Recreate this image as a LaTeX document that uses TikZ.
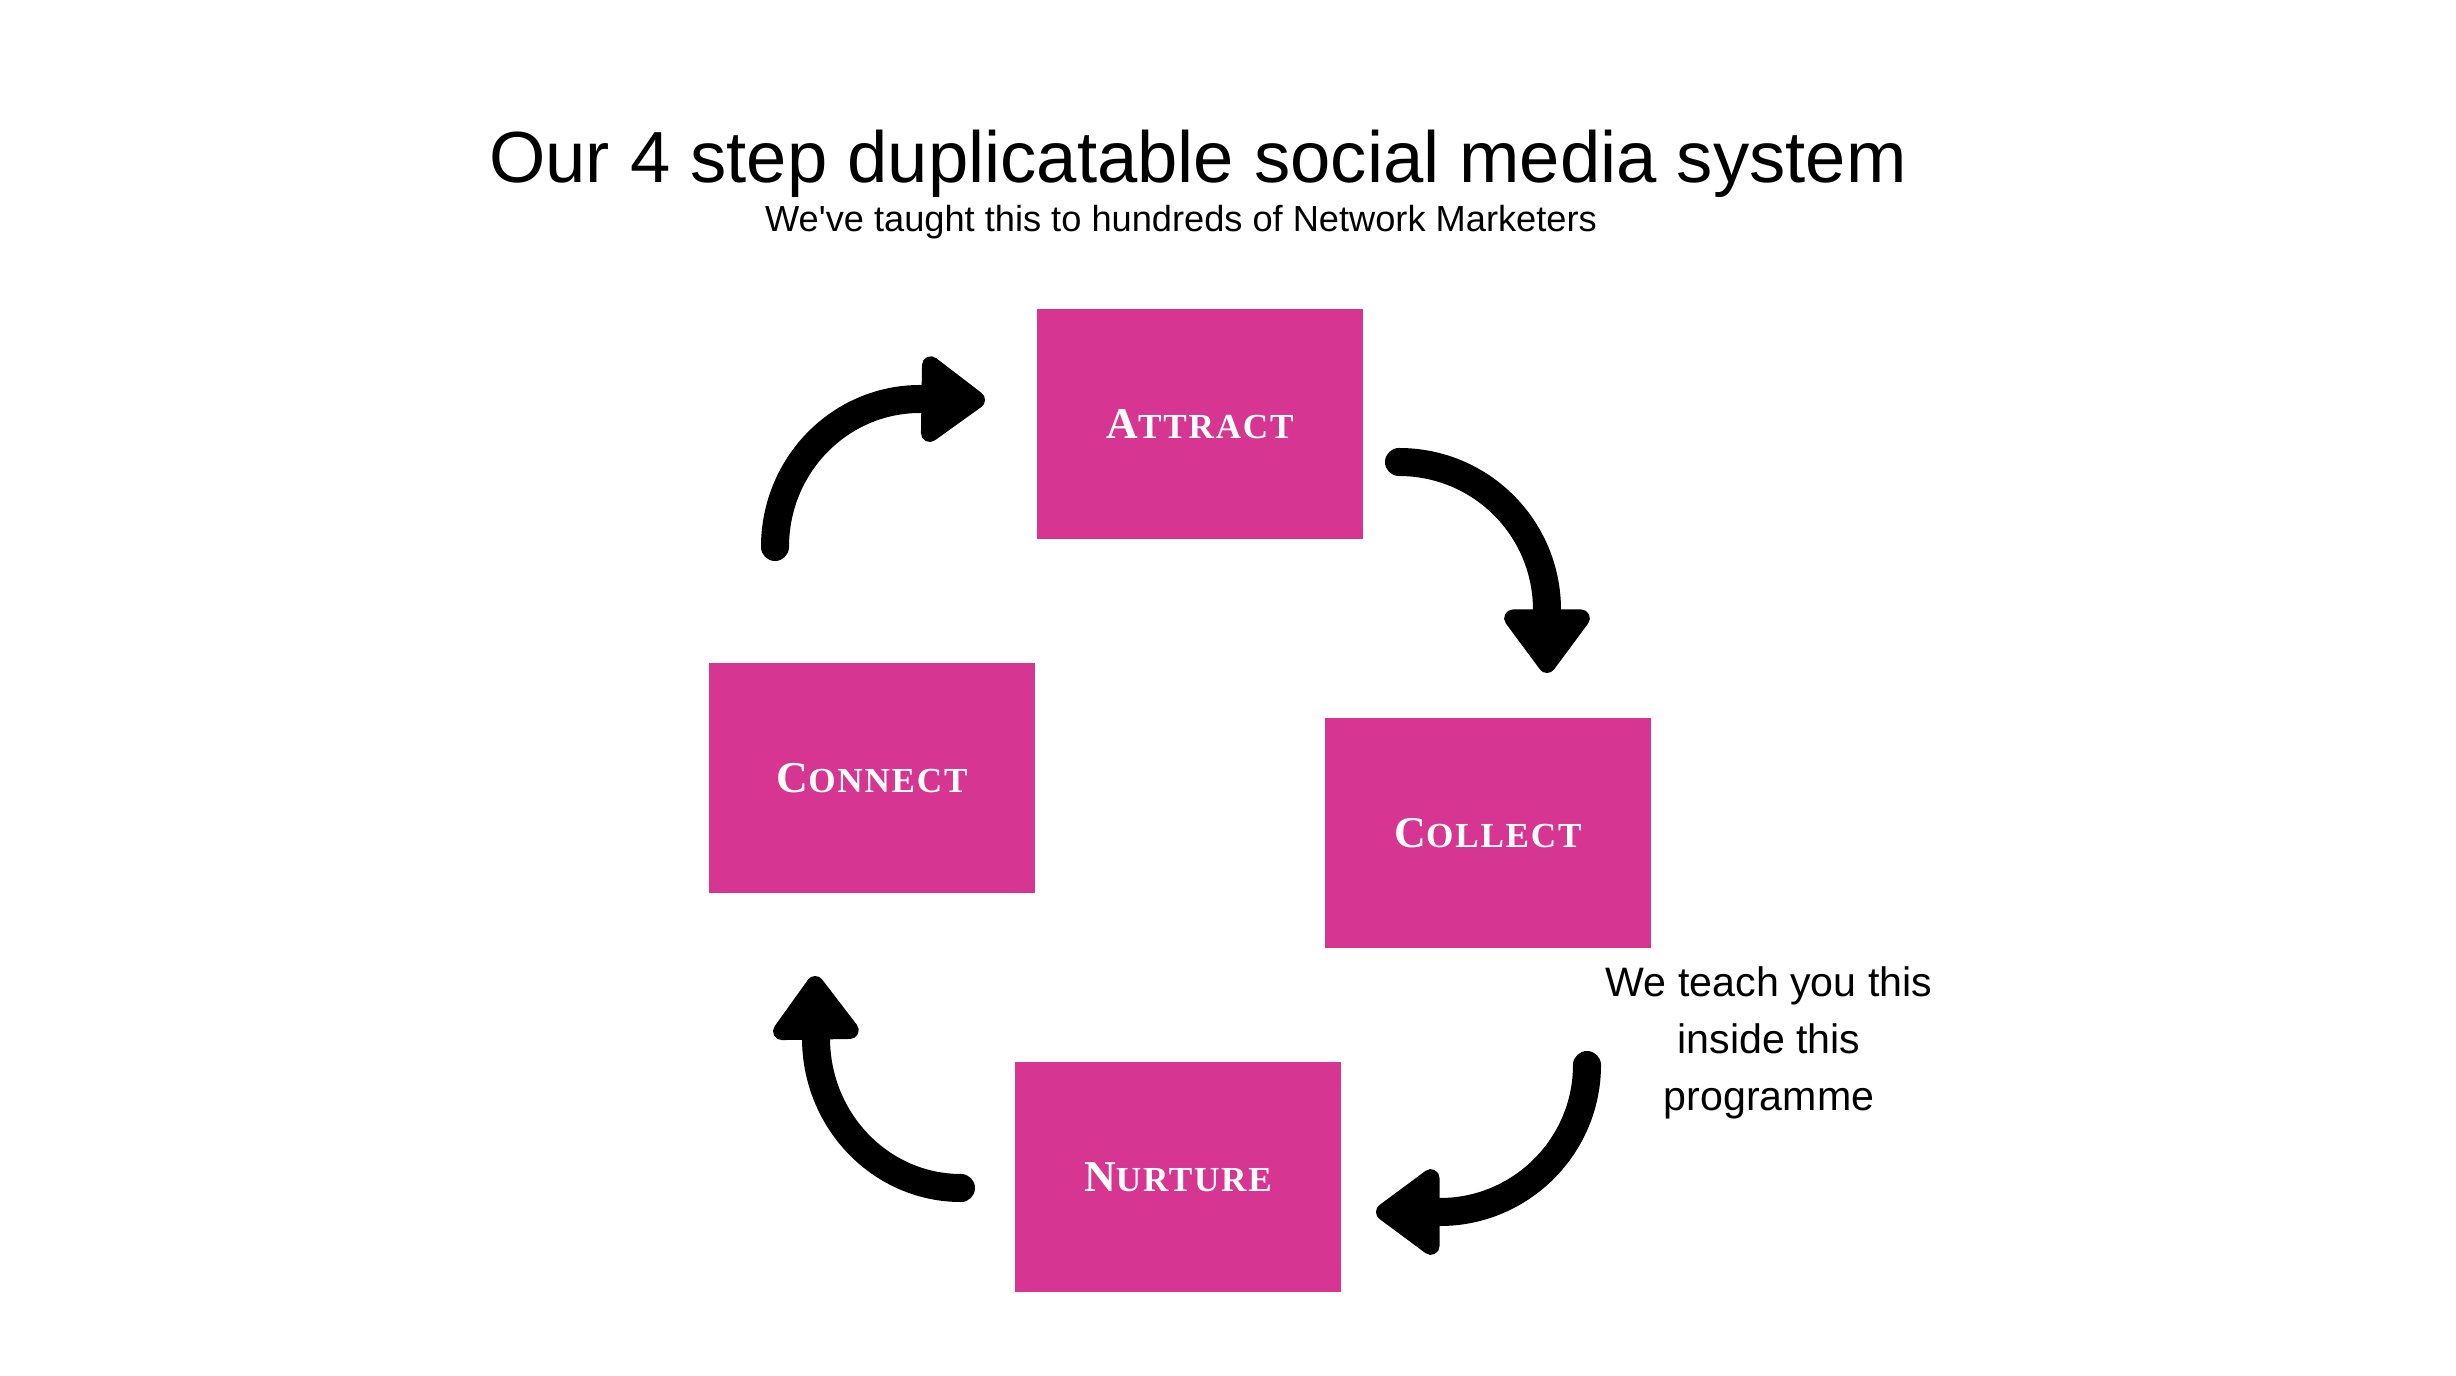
\documentclass[tikz,border=0pt]{standalone}
\usepackage{fontspec}
\setmainfont{Liberation Sans}
\newfontfamily\capsfont[LetterSpace=5]{Liberation Serif}
\usepackage{tikz}
\usetikzlibrary{positioning,arrows.meta}
\usepackage{xcolor}
\definecolor{stepPink}{RGB}{214,54,145}
\newcommand{\stepname}[2]{{\fontsize{12.5}{14}\selectfont#1}{\fontsize{10}{11}\selectfont#2}}

\begin{document}
\begin{tikzpicture}[x=0.01cm,y=-0.01cm,
  stepbox/.style={fill=stepPink, text=white, inner sep=0pt,
    minimum width=3.26cm, minimum height=2.29cm, font=\capsfont\bfseries},
  loop arrow/.style={line width=2.8mm, line cap=round,
    -{Triangle[length=7mm,width=9.8mm,round]}}]
\useasboundingbox (0,0) rectangle (2456,1376);
% Headings
\node[anchor=base, font=\fontsize{20.6}{24}\selectfont] (title) at (1198,183) {Our 4 step duplicatable social media system};
\node[anchor=base, font=\fontsize{10.3}{12}\selectfont] (subtitle) at (1181,232) {We\textquotesingle ve taught this to hundreds of Network Marketers};
% Steps
\node[stepbox] (attract) at (1200,424) {\stepname{A}{TTRACT}};
\node[stepbox] (collect) at (1488,833) {\stepname{C}{OLLECT}};
\node[stepbox] (nurture) at (1178,1177) {\stepname{N}{URTURE}};
\node[stepbox] (connect) at (872,778) {\stepname{C}{ONNECT}};
% Note
\node[anchor=base, align=center, font=\fontsize{11.7}{16.1}\selectfont] (note) at (1769,1110) {We teach you this\\inside this\\programme};
% Cycle arrows
\coordinate (connectOut) at (775,547);
\coordinate (attractIn) at (985,400);
\coordinate (attractOut) at (1399,462);
\coordinate (collectIn) at (1547,673);
\coordinate (collectOut) at (1587,1065);
\coordinate (nurtureIn) at (1376,1212);
\coordinate (nurtureOut) at (961,1188);
\coordinate (connectIn) at (815,976);
\draw[loop arrow] (connectOut) .. controls (775,465) and (840,399) .. (920,399) -- (attractIn);
\draw[loop arrow] (attractOut) .. controls (1481,462) and (1547,528) .. (1547,610) -- (collectIn);
\draw[loop arrow] (collectOut) .. controls (1587,1146) and (1521,1212) .. (1440,1212) -- (nurtureIn);
\draw[loop arrow] (nurtureOut) .. controls (881,1188) and (816,1121) .. (816,1038) -- (connectIn);
\end{tikzpicture}
\end{document}
